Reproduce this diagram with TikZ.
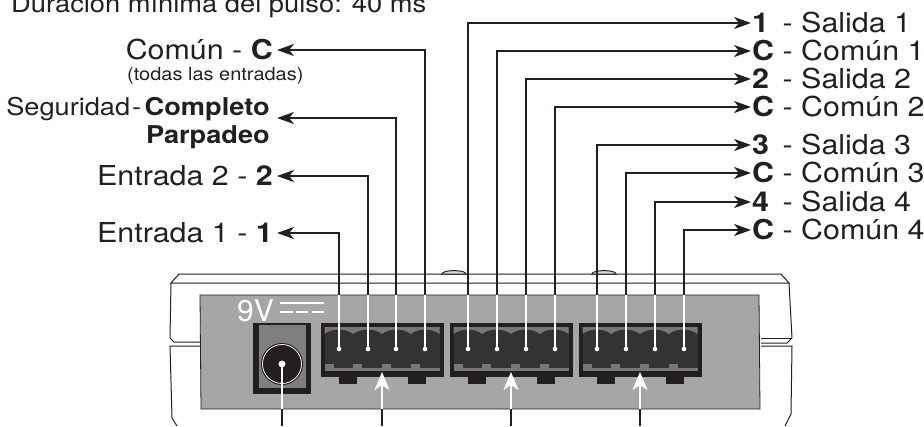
\documentclass[tikz,border=0pt]{standalone}
\usepackage{fontspec}
\setmainfont{TeX Gyre Heros}[FakeStretch=1.11]
\newfontfamily\plainfont{TeX Gyre Heros}
\usetikzlibrary{arrows.meta}
\definecolor{ink}{HTML}{231F20}
\definecolor{panelgrey}{HTML}{A6A6A6}
\definecolor{conninner}{HTML}{333333}
\definecolor{connband}{HTML}{777777}
\definecolor{jackgrey}{HTML}{7F7F7F}
\definecolor{bumpgrey}{HTML}{D9D9D9}
\newcommand{\bx}[1]{\makebox[22pt][l]{\bfseries #1}}
\begin{document}
\begin{tikzpicture}[x=1pt,y=-1pt,
  blk/.style={line width=2.6pt, draw=ink},
  lead/.style={blk, -{Stealth[length=17pt,width=12pt,inset=5pt]}},
  wht/.style={line width=2.2pt, draw=white},
  warrow/.style={wht, -{Stealth[length=18pt,width=15pt,inset=5pt]}},
  lbl/.style={inner xsep=0pt, inner ysep=0pt, text height=19.6pt, text depth=0pt, text=ink, font=\fontsize{27.4}{27.4}\selectfont},
  house/.style={draw=ink, line width=1pt},
  seg/.style={inner sep=0pt, text=ink, font=\fontsize{24.5}{24.5}\selectfont},
]
\useasboundingbox (0,0) rectangle (924,426);

% ---------- housing ----------
\draw[house] (171,283) -- (179,274) -- (781,274) -- (789,283) -- cycle;
\filldraw[house, fill=bumpgrey] (442,274) .. controls (442,269.5) and (466,269.5) .. (466,274) -- cycle;
\filldraw[house, fill=bumpgrey] (592,274) .. controls (592,269.5) and (616,269.5) .. (616,274) -- cycle;
\draw[house] (171,283) -- (170,338) -- (174,342) -- (200,342);
\draw[house] (200,346) -- (170,346) -- (172,418) -- (177,426);
\draw[house] (789,283) -- (792,338) -- (787,343) -- (761,343);
\draw[house] (761,338) -- (792,338);
\draw[house] (761,346) -- (792,346) -- (791,414) -- (785,426);

% ---------- panel ----------
\filldraw[fill=panelgrey, draw=ink, line width=0.8pt] (200,295) -- (759,295) -- (760,409) -- (201,409) -- cycle;

% ---------- power jack ----------
\fill[ink] (253,323) rectangle (311,394);
\fill[jackgrey] (259,325) rectangle (306,388);
\node[circle, fill=ink, minimum size=42pt, inner sep=0pt] (jack) at (282,364) {};
\draw[white, line width=0.8pt] (jack.center) circle (19.5);
\node[anchor=base west, inner sep=0pt, text=white, font=\plainfont\fontsize{30}{30}\selectfont] (nine) at (237,321) {9V};
\draw[white, line width=2.8pt] (280,303) -- (324,303);
\draw[white, line width=2.8pt] (280,312) -- (293,312) (296,312) -- (308,312) (312,312) -- (324,312);

% ---------- terminal blocks ----------
\foreach \L in {320.5,449.5,578.5}{
  \fill[ink] (\L,323) rectangle ++(123,54);
  \fill[conninner] (\L+4,327) rectangle ++(115,44);
  \fill[connband] (\L+4,327) -- (\L+119,327) -- (\L+119,334)
    .. controls +(-7,-6) and +(7,-6) .. ++(-28.75,0)
    .. controls +(-7,-6) and +(7,-6) .. ++(-28.75,0)
    .. controls +(-7,-6) and +(7,-6) .. ++(-28.75,0)
    .. controls +(-7,-6) and +(7,-6) .. ++(-28.75,0) -- cycle;
  \fill[connband] (\L+4,364) rectangle (\L+119,371);
  \foreach \k in {0,1,2,3}{
    \fill[conninner] (\L+4+28.75*\k+9,364) rectangle ++(19.75,3.5);
  }
  \fill[ink] (\L+18.5,377) rectangle ++(18,7);
  \fill[ink] (\L+87,377) rectangle ++(18,7);
}

% ---------- pins ----------
\foreach \n/\x in {a/339,b/368,c/396,d/425,e/468,f/497,g/526,h/555,i/597,j/626,k/655,l/684}{
  \coordinate (p\n) at (\x,349);
  \coordinate (t\n) at (\x,295);
  \draw[wht] (p\n) -- (t\n);
  \fill[white] (p\n) circle (2.3);
}

% ---------- title (cut by the top edge, as in the original) ----------
\node[anchor=base west, inner sep=0pt, text=ink, font=\fontsize{24.6}{24.6}\selectfont] (title) at (11,12) {Duración mínima del pulso: 40 ms};

% ---------- left labels ----------
\node[lbl, anchor=east, inner xsep=4pt] (lc) at (277,50) {Común - \textbf{C}};
\node[anchor=base west, inner sep=0pt, text=ink, font=\fontsize{18}{18}\selectfont] (lcs) at (127,80) {(todas las entradas)};
\node[seg, anchor=base east, font=\fontsize{24.5}{24.5}\selectfont\bfseries] (sa) at (270,115) {Completo};
\node[seg, anchor=base east, font=\fontsize{24.5}{24.5}\selectfont\bfseries] (sb) at (270,143) {Parpadeo};
\node[seg, anchor=base east] (sl) at ([xshift=-3pt]sa.base west) {Seguridad\kern2pt-};
\coordinate (segtip) at (277,118);
\node[lbl, anchor=east, inner xsep=4pt] (le2) at (277,176) {Entrada 2 - \textbf{2}};
\node[lbl, anchor=east, inner xsep=4pt] (le1) at (277,233) {Entrada 1 - \textbf{1}};

\draw[lead] (td) |- (lc.east);
\draw[lead] (tc) |- (segtip);
\draw[lead] (tb) |- (le2.east);
\draw[lead] (ta) |- (le1.east);

% ---------- right labels ----------
\node[lbl, anchor=west, inner xsep=1pt] (r1) at (751,23)  {\bx{1} - Salida 1};
\node[lbl, anchor=west, inner xsep=1pt] (r2) at (751,51)  {\bx{C} - Común 1};
\node[lbl, anchor=west, inner xsep=1pt] (r3) at (751,79)  {\bx{2} - Salida 2};
\node[lbl, anchor=west, inner xsep=1pt] (r4) at (751,107) {\bx{C} - Común 2};
\node[lbl, anchor=west, inner xsep=1pt] (r5) at (751,145) {\bx{3} - Salida 3};
\node[lbl, anchor=west, inner xsep=1pt] (r6) at (751,173) {\bx{C} - Común 3};
\node[lbl, anchor=west, inner xsep=1pt] (r7) at (751,202) {\bx{4} - Salida 4};
\node[lbl, anchor=west, inner xsep=1pt] (r8) at (751,230) {\bx{C} - Común 4};

\draw[lead] (te) |- (r1.west);
\draw[lead] (tf) |- (r2.west);
\draw[lead] (tg) |- (r3.west);
\draw[lead] (th) |- (r4.west);
\draw[lead] (ti) |- (r5.west);
\draw[lead] (tj) |- (r6.west);
\draw[lead] (tk) |- (r7.west);
\draw[lead] (tl) |- (r8.west);

% ---------- bottom pointers ----------
\coordinate (jb) at (282,426);
\coordinate (jp) at (282,409);
\draw[blk] (jb) -- (jp);
\draw[wht] (jp) -- (jack.center);
\fill[white] (jack.center) circle (3.5);
\foreach \n/\x in {1/382,2/511,3/640}{
  \coordinate (bb\n) at (\x,426);
  \coordinate (bp\n) at (\x,409);
  \coordinate (bt\n) at (\x,372);
  \draw[blk] (bb\n) -- (bp\n);
  \draw[warrow] (bp\n) -- (bt\n);
}
\end{tikzpicture}
\end{document}
